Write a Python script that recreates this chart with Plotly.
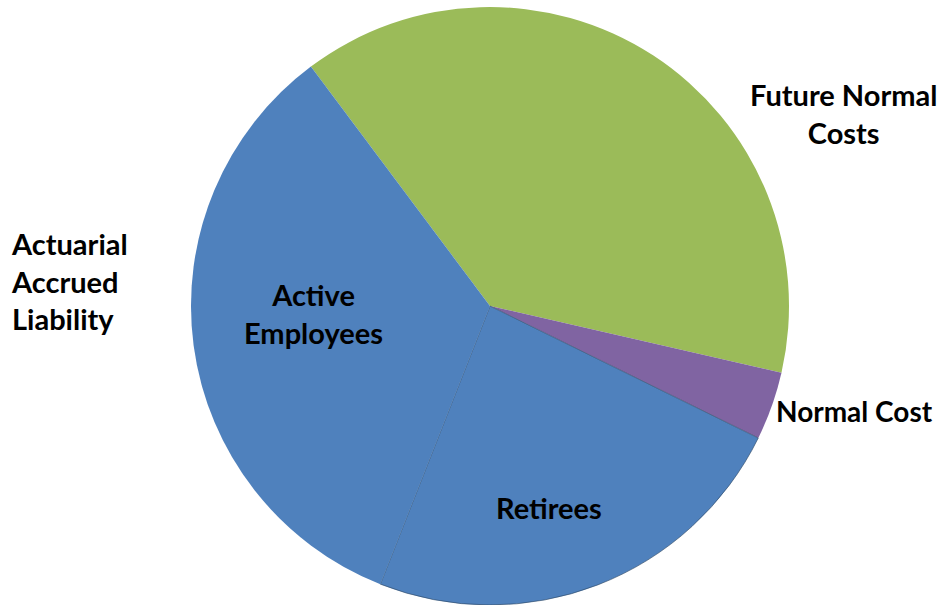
import plotly.graph_objects as go

# Slice data (clockwise from the top-left boundary)
slice_names = ["Future Normal Costs", "Normal Cost", "Retirees", "Active Employees"]
slice_values = [38.8, 3.7, 23.7, 33.8]
slice_colors = ["#9BBB59", "#8064A2", "#4F81BD", "#4F81BD"]
slice_line_colors = ["rgba(0,0,0,0)", "rgba(0,0,0,0)", "#2B4560", "rgba(0,0,0,0)"]

# Label texts
label_texts = [
    "Future Normal<br>Costs",
    "Normal Cost",
    "Actuarial<br>Accrued<br>Liability",
    "Active<br>Employees",
    "Retirees",
]
label_sizes = [29, 28, 29, 29, 29]

W, H = 940, 605


def px_x(px):
    return px / W


def px_y(py):
    return 1 - py / H


fig = go.Figure()
fig.add_trace(go.Pie(
    labels=slice_names,
    values=slice_values,
    sort=False,
    direction="clockwise",
    rotation=323.2,
    marker=dict(colors=slice_colors, line=dict(color=slice_line_colors, width=0.6)),
    textinfo="none",
    hoverinfo="label+value",
    showlegend=False,
    domain=dict(x=[px_x(190), px_x(790)], y=[px_y(605), px_y(7)]),
))

# (x px, y px, anchor, align) in screenshot coordinates
placements = [
    (843, 114, "center", "center"),
    (854, 411, "center", "center"),
    (9, 281, "left", "left"),
    (313, 313, "center", "center"),
    (549, 507, "center", "center"),
]
for txt, size, (px, py, xa, al) in zip(label_texts, label_sizes, placements):
    fig.add_annotation(
        text=txt, x=px_x(px), y=px_y(py), xref="paper", yref="paper",
        xanchor=xa, yanchor="middle", align=al, showarrow=False,
        font=dict(family="Lato, 'Open Sans', sans-serif", size=size, color="black", weight="bold"),
    )

fig.update_layout(
    width=W, height=H,
    margin=dict(l=0, r=0, t=0, b=0),
    paper_bgcolor="white", plot_bgcolor="white",
)
fig.write_html(
    "out.html",
    config={"displayModeBar": False},
    post_script="document.body.style.margin='0';document.documentElement.style.overflow='hidden';",
)
